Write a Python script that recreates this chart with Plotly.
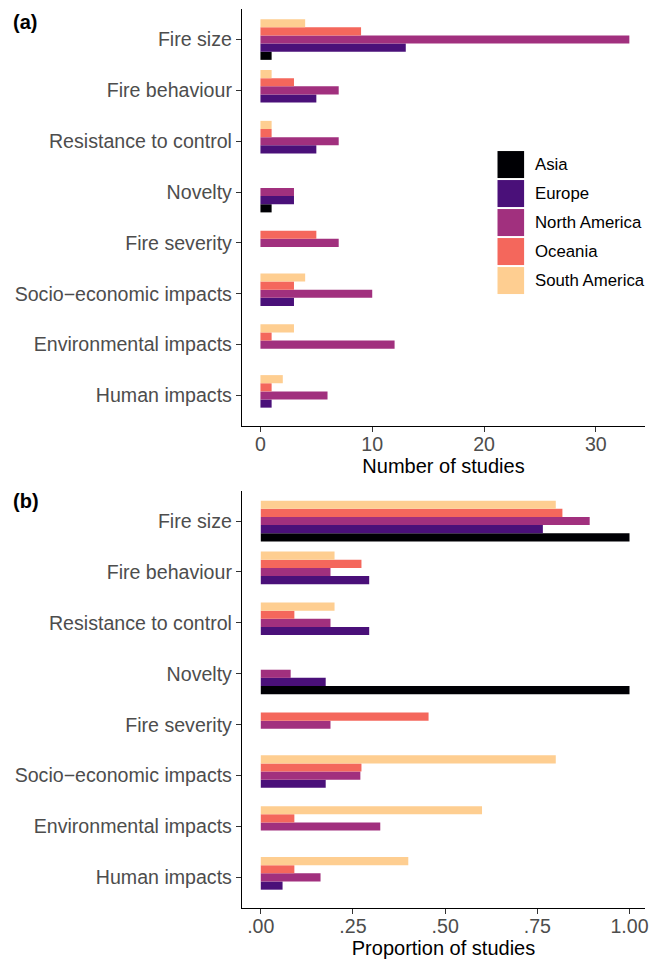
import plotly.graph_objects as go

# Categories listed top-to-bottom as shown
categories = ["Fire size", "Fire behaviour", "Resistance to control", "Novelty",
              "Fire severity", "Socio\u2212economic impacts", "Environmental impacts",
              "Human impacts"]
regions = ["Asia", "Europe", "North America", "Oceania", "South America"]
colors = ["#000004", "#4A1079", "#A1307E", "#F4675C", "#FECE91"]

# (a) Number of studies (None = no bar)
asia_n = [1, None, None, 1, None, None, None, None]
europe_n = [13, 5, 5, 3, None, 3, None, 1]
namerica_n = [33, 7, 7, 3, 7, 10, 12, 6]
oceania_n = [9, 3, 1, None, 5, 3, 1, 1]
samerica_n = [4, 1, 1, None, None, 4, 3, 2]

# (b) Proportion of studies
asia_p = [1.0, None, None, 1.0, None, None, None, None]
europe_p = [0.765, 0.294, 0.294, 0.176, None, 0.176, None, 0.059]
namerica_p = [0.892, 0.189, 0.189, 0.081, 0.189, 0.270, 0.324, 0.162]
oceania_p = [0.818, 0.273, 0.091, None, 0.455, 0.273, 0.091, 0.091]
samerica_p = [0.800, 0.200, 0.200, None, None, 0.800, 0.600, 0.400]

xa_ticks = [0, 10, 20, 30]
xa_text = ["0", "10", "20", "30"]
xb_ticks = [0, 0.25, 0.5, 0.75, 1.0]
xb_text = [".00", ".25", ".50", ".75", "1.00"]

counts = [asia_n, europe_n, namerica_n, oceania_n, samerica_n]
props = [asia_p, europe_p, namerica_p, oceania_p, samerica_p]

FONT = "Liberation Sans, Arial, Helvetica, sans-serif"
fig = go.Figure()
for reg, col, vals in zip(regions, colors, counts):
    fig.add_trace(go.Bar(x=vals, y=categories, orientation="h", name=reg,
                         marker=dict(color=col, line=dict(width=0)),
                         xaxis="x", yaxis="y", showlegend=False))
for reg, col, vals in zip(regions, colors, props):
    fig.add_trace(go.Bar(x=vals, y=categories, orientation="h", name=reg,
                         marker=dict(color=col, line=dict(width=0)),
                         xaxis="x2", yaxis="y2", showlegend=False))

cat_order = list(reversed(categories))
axis_common = dict(showline=True, linecolor="black", linewidth=1.3,
                   ticks="outside", ticklen=5, tickwidth=1.1, tickcolor="#333333",
                   showgrid=False, zeroline=False,
                   tickfont=dict(family=FONT, size=19.6, color="#4D4D4D"))
yaxis_common = dict(axis_common, type="category", categoryorder="array",
                    categoryarray=cat_order, range=[-0.6, 7.6])

fig.update_layout(
    width=649, height=961,
    margin=dict(l=242, r=0, t=9, b=53),
    paper_bgcolor="white", plot_bgcolor="white",
    barmode="group", bargap=0.2, bargroupgap=0,
    font=dict(family=FONT, color="black"),
    xaxis=dict(axis_common, anchor="y", domain=[0, 1], range=[-1.65, 34.4],
               tickvals=xa_ticks, ticktext=xa_text, ticklabelstandoff=-5,
               ticklabeloverflow="allow",
               title=dict(text="Number of studies", standoff=4,
                          font=dict(family=FONT, size=20, color="black"))),
    yaxis=dict(yaxis_common, anchor="x", domain=[0.5362, 1]),
    xaxis2=dict(axis_common, anchor="y2", domain=[0, 1], range=[-0.051, 1.042],
                tickvals=xb_ticks, ticktext=xb_text, ticklabelstandoff=-5,
                ticklabeloverflow="allow",
                title=dict(text="Proportion of studies", standoff=4,
                           font=dict(family=FONT, size=20, color="black"))),
    yaxis2=dict(yaxis_common, anchor="x2", domain=[0, 0.4644]),
)

# Panel labels
fig.add_annotation(text="<b>(a)</b>", xref="paper", yref="paper", x=-0.5725, y=0.9855,
                   xanchor="left", yanchor="middle", showarrow=False,
                   font=dict(family=FONT, size=20, color="black"))
fig.add_annotation(text="<b>(b)</b>", xref="paper", yref="paper", x=-0.5725, y=0.4527,
                   xanchor="left", yanchor="middle", showarrow=False,
                   font=dict(family=FONT, size=20, color="black"))

# Legend (inside panel a), large square keys
key_x0, key_x1 = 0.634, 0.700
top = 0.842
pitch = 29 / 899
key_h = 27 / 899
for i, (reg, col) in enumerate(zip(regions, colors)):
    y1 = top - i * pitch
    y0 = y1 - key_h
    fig.add_shape(type="rect", xref="paper", yref="paper", x0=key_x0, x1=key_x1,
                  y0=y0, y1=y1, fillcolor=col, line=dict(width=0))
    fig.add_annotation(text=reg, xref="paper", yref="paper", x=0.723, y=(y0 + y1) / 2,
                       xanchor="left", yanchor="middle", showarrow=False,
                       font=dict(family=FONT, size=16.8, color="black"))

fig.write_html("out.html", config={"displayModeBar": False},
               post_script="document.body.style.margin='0';"
                           "document.body.style.overflow='hidden';")
